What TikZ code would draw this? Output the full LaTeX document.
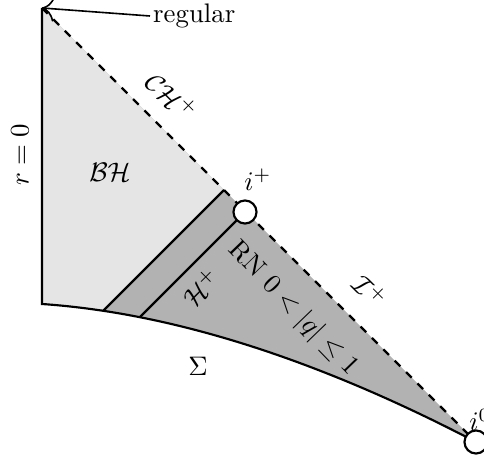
\documentclass[tikz,border=0pt]{standalone}
\usepackage{amsmath,amssymb}
\usetikzlibrary{arrows.meta}

\begin{document}
\begin{tikzpicture}[
  x=0.0131cm, y=-0.0131cm,
  bnd/.style={thick},
  nullinf/.style={thick, dashed},
  endpt/.style={circle, draw, thick, fill=white, inner sep=0pt, minimum size=8.6pt},
  lbl/.style={inner sep=1pt}
]
\useasboundingbox (0,0) rectangle (484,459);
\coordinate (top) at (42,8);
\coordinate (origin) at (42,304);
\coordinate (chend) at (224,190);
\coordinate (ip) at (245,212);
\coordinate (io) at (476,442);

% shaded regions
\begin{scope}
\clip (top) -- (io) .. controls (317,359) and (172,313) .. (origin) -- cycle;
\fill[gray!60] (0,0) rectangle (484,459);
\fill[gray!20] (top) -- (chend) -- ++(-250,250) -- (0,459) -- (0,0) -- cycle;
\draw[bnd] (chend) -- ++(-250,250);
\draw[bnd] (ip) -- ++(-250,250);
\end{scope}

% boundaries
\draw[bnd] (top) -- (origin) .. controls (172,313) and (317,359) .. (io);
\draw[nullinf] (top) -- (io);
\node[endpt] (iplus) at (ip) {};
\node[endpt] (izero) at (io) {};

% labels
\node[lbl, anchor=west] (reg) at (150,16) {regular};
\draw[-{To[length=1.6mm]}, semithick] (reg.west) -- (top);
\node[lbl, rotate=90] (rzero) at (20,155) {$r=0$};
\node[lbl] (bh) at (110,172) {$\mathcal{BH}$};
\node[lbl, rotate=-45] (chp) at (172,96) {$\mathcal{CH}^{+}$};
\node[lbl] (iplbl) at (258,180) {$i^{+}$};
\node[lbl] (iolbl) at (480,420) {$i^{0}$};
\node[lbl, rotate=-45] (scri) at (370,291) {$\mathcal{I}^{+}$};
\node[lbl, rotate=45] (hor) at (201,288) {$\mathcal{H}^{+}$};
\node[lbl, rotate=-46] (rn) at (293,309) {RN $0<|q|\leq 1$};
\node[lbl] (sig) at (198,366) {$\Sigma$};
\end{tikzpicture}
\end{document}
